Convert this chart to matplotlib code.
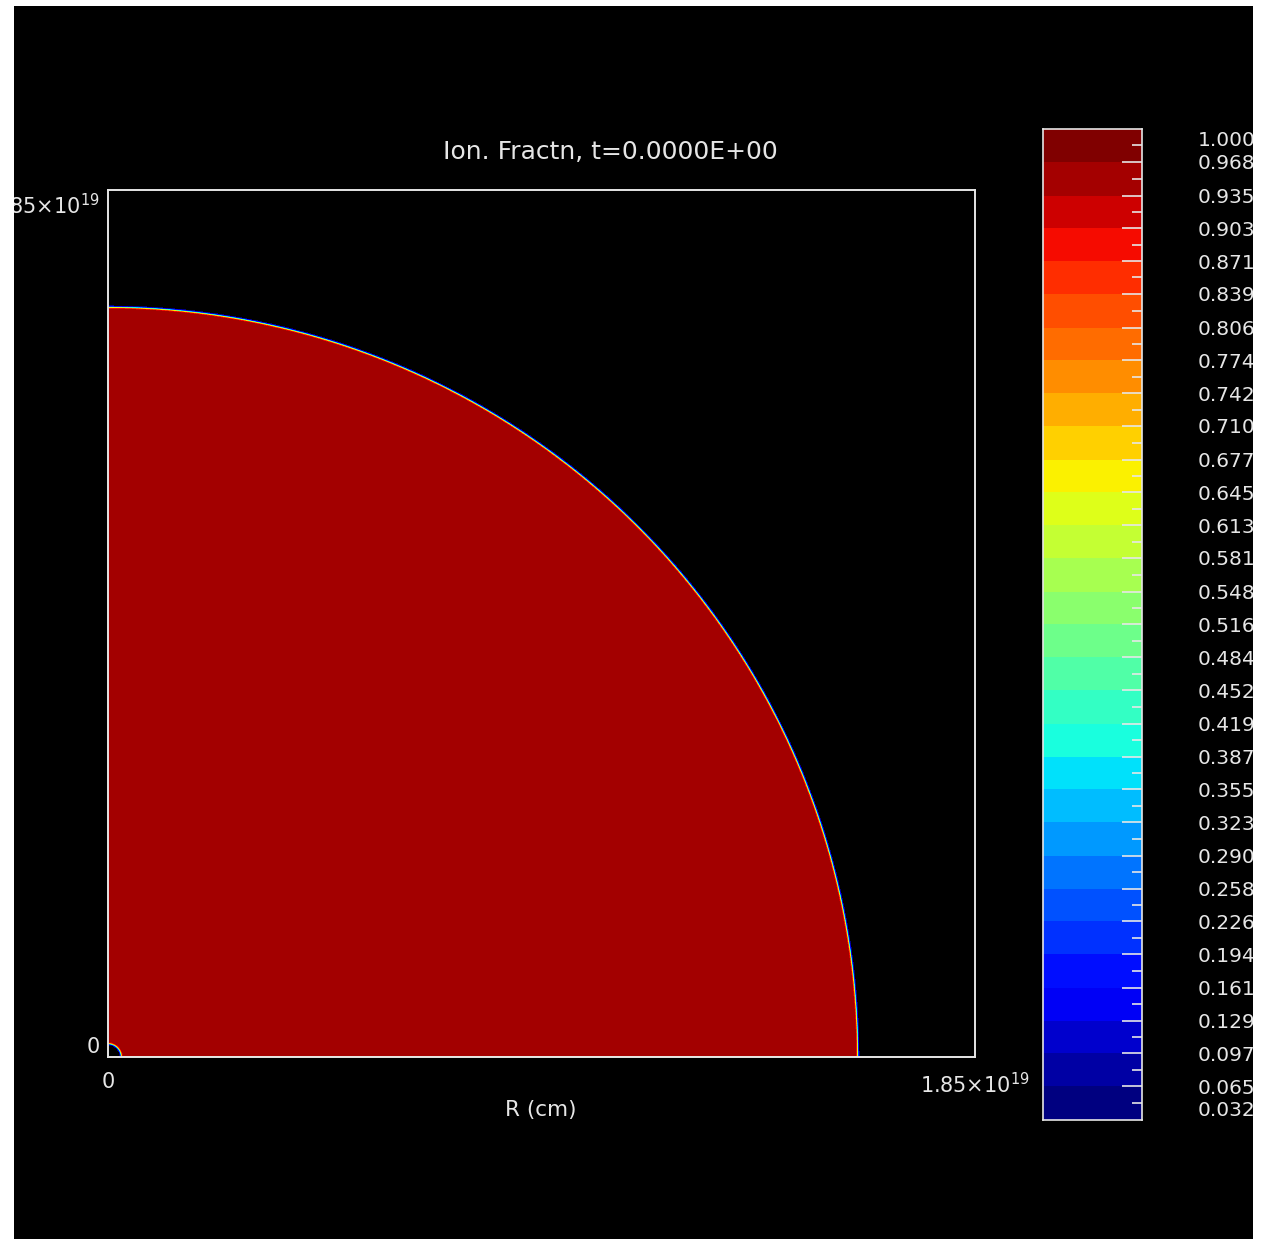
import numpy as np
import matplotlib
matplotlib.use("Agg")
import matplotlib.pyplot as plt
from matplotlib.colors import ListedColormap, BoundaryNorm
from matplotlib.patches import Rectangle
from matplotlib.transforms import ScaledTranslation

# ---- data -------------------------------------------------------------
extent_cm = 1.85e19            # domain size in R and z (cm)
r_front = 1.6e19               # radius of the ionised region (cm)
r_hole = 2.8e17                # small neutral core at the origin (cm)
ion_inside = 0.96              # ionisation fraction inside the front
axis_row_value = 0.70          # fraction in the first row along the axis
n_cells = 867                  # grid cells per dimension

level_labels = ["1.000", "0.968", "0.935", "0.903", "0.871", "0.839", "0.806",
                "0.774", "0.742", "0.710", "0.677", "0.645", "0.613", "0.581",
                "0.548", "0.516", "0.484", "0.452", "0.419", "0.387", "0.355",
                "0.323", "0.290", "0.258", "0.226", "0.194", "0.161", "0.129",
                "0.097", "0.065", "0.032"]
levels = np.array(sorted(float(s) for s in level_labels))

title = "Ion. Fractn, t=0.0000E+00"
xlabel = "R (cm)"
tick_text = "1.85\u00d710$^{19}$"

# ---- field ------------------------------------------------------------
dx = extent_cm / n_cells
c = (np.arange(n_cells) + 0.5) * dx
R, Z = np.meshgrid(c, c)
rad = np.hypot(R, Z)
w = 1.0 * dx
frac = ion_inside * 0.5 * (1 - np.tanh((rad - r_front) / w))
frac *= 0.5 * (1 + np.tanh((rad - r_hole) / w))
frac[0, :] *= axis_row_value / ion_inside
frac = np.ma.masked_less(frac, levels[0])

# ---- figure -----------------------------------------------------------
W, H = 1261, 1239
fig = plt.figure(figsize=(W / 100, H / 100), dpi=100, facecolor="black")
fg = "#e6e6e6"
plt.rcParams["font.family"] = ["DejaVu Sans"]

cmap = ListedColormap(plt.cm.jet(np.linspace(0, 1, len(levels) - 1)))
cmap.set_bad((0, 0, 0, 0))
norm = BoundaryNorm(levels, cmap.N)

ax = fig.add_axes([108 / W, 1 - 1057 / H, 867 / W, 867 / H], facecolor="black")
ax.imshow(frac, origin="lower", extent=[0, extent_cm, 0, extent_cm],
          cmap=cmap, norm=norm, interpolation="nearest", aspect="auto")
ax.set_xlim(0, extent_cm)
ax.set_ylim(0, extent_cm)
for s in ax.spines.values():
    s.set_color(fg)
    s.set_linewidth(1.4)
ax.set_xticks([0, extent_cm], ["0", tick_text])
ax.set_yticks([0, extent_cm], ["0", tick_text])
ax.tick_params(length=0, colors=fg, labelsize=15)
ax.tick_params(axis="x", pad=11)
ax.tick_params(axis="y", pad=6)
ylabs = ax.get_yticklabels()
ylabs[0].set_va("bottom")
ylabs[1].set_va("top")
ylabs[1].set_transform(ylabs[1].get_transform() +
                       ScaledTranslation(0, -2 / 72, fig.dpi_scale_trans))

fig.text(541 / W, 1 - 1110 / H, xlabel, color=fg, fontsize=15.5,
         ha="center", va="center")
fig.text(610 / W, 1 - 152 / H, title, color=fg, fontsize=18,
         ha="center", va="center")

# ---- colour bar -------------------------------------------------------
cax = fig.add_axes([1043 / W, 1 - 1120 / H, 99 / W, 991 / H], facecolor="black")
cax.pcolormesh([0, 1], levels, levels[:-1, None], cmap=cmap, norm=norm)
cax.set_xlim(0, 1)
cax.set_ylim(levels[0], levels[-1])
cax.set_xticks([])
for s in cax.spines.values():
    s.set_color(fg)
    s.set_linewidth(1.2)
cax.yaxis.tick_right()
cax.set_yticks(levels[1:-1], [""] * (len(levels) - 2))
cax.set_yticks((levels[:-1] + levels[1:]) / 2, minor=True)
cax.tick_params(which="major", direction="in", length=14.5, width=1.2, color=fg)
cax.tick_params(which="minor", direction="in", length=7.2, width=1.2, color=fg)

tr = cax.get_yaxis_transform()
for v, s in zip(levels, sorted(level_labels)):
    va, dy = "center", -2
    if s == level_labels[0]:
        va, dy = "top", -2
    elif s == level_labels[-1]:
        va, dy = "bottom", 0
    t = cax.text(1 + (1198 - 1142) / 99, v, s, transform=tr, color=fg,
                 fontsize=14.5, ha="left", va=va)
    t.set_transform(tr + ScaledTranslation(0, dy / 72 * 0.72, fig.dpi_scale_trans))

# ---- white page margins ----------------------------------------------
for x0, y0, x1, y1 in [(0, 0, 14, H), (0, 0, W, 6), (1253, 0, W, H)]:
    fig.add_artist(Rectangle((x0 / W, 1 - y1 / H), (x1 - x0) / W, (y1 - y0) / H,
                             transform=fig.transFigure, facecolor="white",
                             edgecolor="none", zorder=10))

fig.savefig("out.png", dpi=100, facecolor=fig.get_facecolor())
